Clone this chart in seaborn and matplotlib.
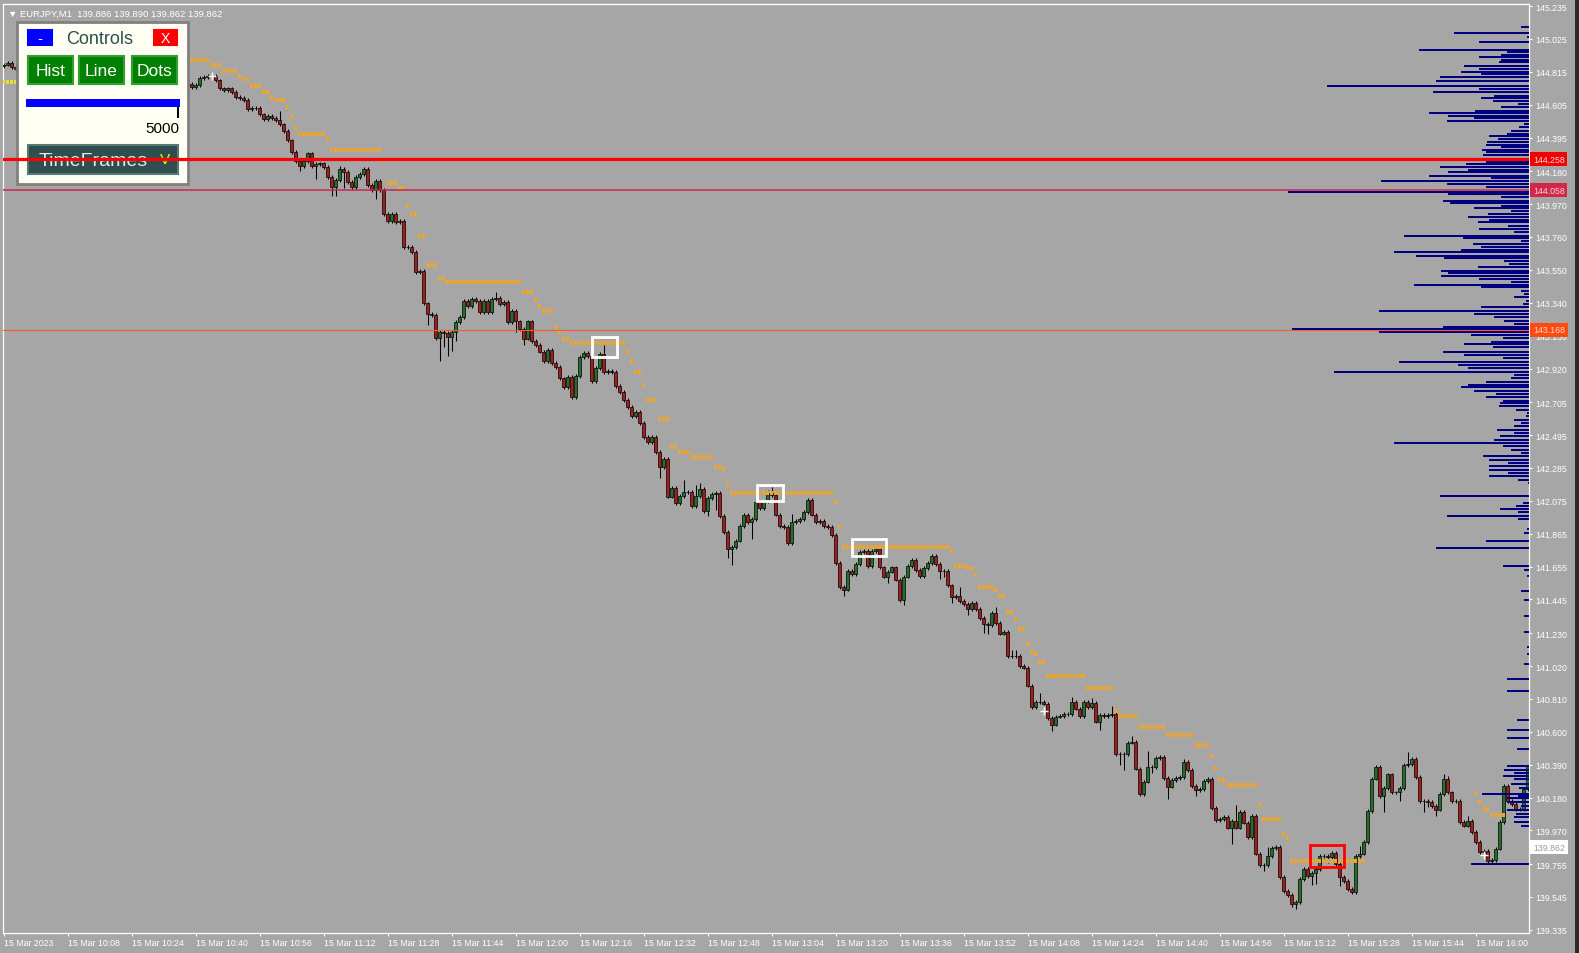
import numpy as np
import pandas as pd
import seaborn as sns
import matplotlib.pyplot as plt
from matplotlib.patches import Rectangle

# ---- EURJPY M1, 15 Mar 2023, first bar at 09:52 ----
first_open = 144.850
closes = [
    144.859, 144.871, 144.846, 144.833, 144.85, 144.86, 144.88, 144.90, 144.91, 144.92,
    144.90, 144.88, 144.90, 144.92, 144.93, 144.91, 144.89, 144.87, 144.88, 144.90,
    144.88, 144.86, 144.85, 144.87, 144.88, 144.90, 144.91, 144.92, 144.91, 144.89,
    144.87, 144.86, 144.84, 144.83, 144.83, 144.81, 144.80, 144.81, 144.82, 144.79,
    144.78, 144.77, 144.77, 144.76, 144.74, 144.75, 144.74,
    144.718, 144.731, 144.775, 144.782, 144.788, 144.788, 144.762, 144.711, 144.699, 144.711,
    144.686, 144.654, 144.648, 144.635, 144.577, 144.584, 144.584, 144.545, 144.513, 144.533,
    144.520, 144.507, 144.481, 144.437, 144.379, 144.303, 144.245, 144.213, 144.245, 144.296,
    144.213, 144.226, 144.232, 144.207, 144.143, 144.079, 144.124, 144.194, 144.175, 144.111,
    144.079, 144.143, 144.162, 144.194, 144.092, 144.060, 144.118, 144.060, 143.907, 143.862,
    143.907, 143.856, 143.862, 143.696, 143.696, 143.664, 143.536, 143.543, 143.338, 143.268,
    143.262, 143.115, 143.153, 143.147, 143.121, 143.153, 143.217, 143.249, 143.351, 143.319,
    143.364, 143.351, 143.281, 143.351, 143.281, 143.364, 143.370, 143.332, 143.345, 143.217,
    143.287, 143.223, 143.172, 143.109, 143.223, 143.096, 143.070, 143.026, 142.968, 143.038,
    142.955, 142.930, 142.859, 142.802, 142.866, 142.738, 142.872, 142.994, 143.019, 143.000,
    142.840, 142.923, 143.013, 142.898, 142.904, 142.898, 142.808, 142.770, 142.719, 142.674,
    142.617, 142.642, 142.572, 142.483, 142.451, 142.483, 142.387, 142.291, 142.342, 142.100,
    142.157, 142.061, 142.106, 142.131, 142.131, 142.042, 142.106, 142.151, 142.010, 142.093,
    142.119, 142.125, 141.978, 141.876, 141.767, 141.780, 141.819, 141.914, 141.985, 141.940,
    141.959, 142.068, 142.029, 142.068, 142.125, 142.112, 141.985, 141.914, 141.908, 141.806,
    141.940, 141.946, 141.959, 142.004, 142.080, 141.985, 141.940, 141.946, 141.914, 141.908,
    141.857, 141.678, 141.525, 141.506, 141.627, 141.608, 141.672, 141.748, 141.755, 141.659,
    141.755, 141.767, 141.652, 141.589, 141.621, 141.652, 141.570, 141.442, 141.589, 141.659,
    141.697, 141.633, 141.595, 141.646, 141.678, 141.723, 141.672, 141.627, 141.627, 141.537,
    141.461, 141.467, 141.435, 141.416, 141.384, 141.423, 141.384, 141.327, 141.288, 141.282,
    141.359, 141.295, 141.225, 141.237, 141.084, 141.084, 141.084, 141.020, 141.008, 140.893,
    140.758, 140.790, 140.790, 140.778, 140.688, 140.644, 140.695, 140.701, 140.714, 140.714,
    140.790, 140.746, 140.701, 140.790, 140.758, 140.784, 140.663, 140.707, 140.701, 140.707,
    140.714, 140.458, 140.458, 140.458, 140.529, 140.535, 140.363, 140.203, 140.280, 140.375,
    140.375, 140.433, 140.439, 140.305, 140.248, 140.292, 140.305, 140.311, 140.407, 140.356,
    140.254, 140.228, 140.235, 140.286, 140.299, 140.113, 140.037, 140.043, 140.056, 139.986,
    140.030, 139.986, 140.088, 140.018, 139.928, 140.062, 139.820, 139.749, 139.749, 139.807,
    139.858, 139.864, 139.673, 139.583, 139.558, 139.500, 139.513, 139.660, 139.724, 139.679,
    139.698, 139.724, 139.807, 139.807, 139.800, 139.826, 139.756, 139.673, 139.647, 139.596,
    139.577, 139.807, 139.820, 139.896, 140.094, 140.299, 140.375, 140.190, 140.241, 140.330,
    140.215, 140.215, 140.241, 140.388, 140.394, 140.426, 140.311, 140.158, 140.158, 140.152,
    140.126, 140.101, 140.203, 140.299, 140.215, 140.158, 140.158, 140.024, 139.999, 140.030,
    139.960, 139.896, 139.832, 139.839, 139.775, 139.781, 139.852, 140.024, 140.254, 140.158,
    140.139, 140.107, 140.107, 140.235, 140.381,
]
# wick beyond the body, in pips (0.01)
upper_wick_pips = [
    1, 1, 1, 1, 1, 1, 1, 1, 1, 1, 1, 1, 1, 1, 1, 1, 1, 1, 1, 1,
    1, 1, 1, 1, 1, 1, 1, 1, 1, 1, 1, 1, 1, 1, 1, 1, 1, 1, 1, 1,
    1, 1, 1, 1, 1, 1, 1, 1, 1, 1, 1, 1, 1, 1, 1, 1, 1, 1, 1, 1,
    1, 1, 1, 1, 1, 1, 1, 1, 1, 6, 1, 1, 1, 1, 1, 1, 1, 1, 1, 1,
    1, 1, 1, 1, 2, 1, 1, 1, 1, 1, 1, 1, 1, 1, 1, 1, 1, 1, 1, 1,
    1, 1, 1, 1, 1, 1, 1, 1, 1, 1, 1, 1, 1, 1, 1, 1, 1, 1, 1, 1,
    1, 1, 1, 4, 1, 1, 1, 1, 1, 1, 1, 1, 1, 1, 1, 1, 1, 1, 1, 1,
    1, 1, 1, 1, 1, 1, 1, 1, 1, 1, 6, 1, 1, 1, 1, 1, 1, 1, 1, 1,
    1, 1, 1, 1, 1, 1, 1, 1, 1, 1, 8, 1, 1, 7, 4, 1, 1, 1, 1, 1,
    1, 1, 1, 1, 1, 1, 1, 1, 1, 1, 1, 2, 4, 1, 1, 1, 1, 5, 1, 1,
    1, 1, 1, 1, 1, 1, 1, 1, 1, 1, 1, 1, 1, 1, 1, 1, 1, 1, 1, 1,
    1, 1, 1, 1, 1, 1, 1, 1, 1, 1, 1, 1, 1, 1, 1, 1, 1, 1, 1, 6,
    1, 1, 1, 1, 1, 1, 1, 1, 4, 1, 1, 1, 4, 4, 1, 1, 1, 1, 1, 6,
    1, 1, 1, 1, 1, 1, 1, 3, 1, 1, 1, 1, 3, 1, 1, 1, 1, 5, 1, 1,
    1, 1, 4, 1, 1, 1, 10, 1, 1, 1, 1, 1, 1, 1, 1, 2, 1, 1, 1, 1,
    1, 1, 1, 1, 1, 1, 1, 1, 10, 1, 1, 1, 1, 1, 1, 1, 6, 1, 1, 1,
    1, 1, 1, 1, 1, 1, 1, 1, 1, 1, 1, 1, 1, 1, 1, 1, 1, 1, 1, 5,
    1, 1, 1, 1, 1, 1, 1, 1, 1, 1, 1, 8, 1, 1, 1, 1, 1, 1, 1, 1,
    3, 2, 1, 1, 1, 1, 3, 1, 1, 1, 1, 1, 1, 1, 1, 1, 1, 1, 1, 1,
    1, 1,
]
lower_wick_pips = [
    1, 1, 1, 1, 1, 1, 1, 1, 1, 1, 1, 1, 1, 1, 1, 1, 1, 1, 1, 1,
    1, 1, 1, 1, 1, 1, 1, 1, 1, 1, 1, 1, 1, 1, 1, 1, 1, 1, 1, 1,
    1, 1, 1, 1, 1, 1, 1, 1, 1, 1, 1, 1, 1, 1, 1, 1, 1, 1, 1, 1,
    1, 1, 1, 1, 1, 1, 1, 1, 1, 1, 1, 1, 1, 1, 3, 1, 1, 1, 8, 1,
    1, 1, 6, 6, 1, 10, 1, 1, 1, 1, 1, 1, 1, 6, 1, 1, 1, 1, 1, 1,
    1, 1, 1, 1, 1, 1, 7, 1, 1, 15, 9, 12, 9, 6, 1, 1, 1, 1, 1, 1,
    1, 1, 1, 1, 1, 1, 1, 1, 7, 1, 4, 1, 1, 1, 1, 1, 1, 1, 1, 1,
    1, 1, 1, 1, 1, 1, 1, 1, 1, 1, 1, 1, 1, 1, 1, 1, 1, 1, 1, 1,
    1, 1, 1, 1, 7, 1, 1, 1, 1, 1, 1, 1, 1, 1, 1, 1, 3, 1, 10, 1,
    1, 6, 10, 1, 1, 1, 1, 11, 1, 1, 1, 1, 1, 1, 1, 1, 1, 1, 1, 1,
    1, 1, 1, 1, 1, 1, 1, 1, 1, 1, 4, 1, 1, 1, 1, 1, 1, 1, 1, 1,
    1, 4, 1, 1, 1, 3, 1, 1, 1, 1, 1, 1, 1, 1, 5, 4, 1, 4, 1, 1,
    1, 4, 1, 1, 1, 6, 6, 1, 1, 1, 1, 1, 1, 1, 1, 1, 1, 1, 1, 1,
    1, 1, 4, 1, 1, 1, 1, 1, 1, 1, 1, 1, 1, 1, 5, 1, 1, 1, 1, 7,
    10, 1, 1, 1, 1, 1, 1, 4, 1, 1, 1, 8, 1, 1, 1, 1, 1, 1, 4, 1,
    1, 1, 1, 1, 1, 1, 1, 10, 1, 1, 1, 1, 1, 1, 1, 4, 1, 1, 1, 1,
    1, 1, 2, 3, 1, 1, 1, 6, 7, 1, 1, 4, 1, 1, 6, 1, 1, 1, 1, 1,
    1, 1, 1, 1, 1, 10, 1, 1, 1, 6, 1, 1, 1, 1, 1, 7, 3, 1, 4, 1,
    1, 1, 1, 1, 1, 1, 1, 1, 1, 1, 1, 1, 1, 1, 1, 1, 1, 1, 1, 1,
    1, 1,
]

# trailing stop dots (orange): first bar, last bar, level
stop_from = [47, 52, 55, 59, 60, 62, 65, 67, 68, 71, 72, 73, 74, 81, 82, 95, 96, 99, 101, 102,
             104, 106, 109, 111, 130, 133, 134, 135, 138, 139, 140, 142, 156, 157, 158, 160, 161, 164, 167, 169,
             172, 178, 180, 181, 182, 208, 209, 210, 237, 238, 241, 243, 244, 248, 249, 251, 253, 254, 256, 257,
             258, 259, 261, 271, 278, 279, 284, 291, 298, 302, 303, 304, 306, 314, 315, 320, 321, 322, 368, 369,
             370, 372]
stop_to = [51, 54, 58, 59, 61, 64, 66, 67, 70, 71, 72, 73, 80, 81, 94, 95, 98, 100, 101, 103,
           105, 108, 110, 129, 132, 133, 134, 137, 138, 139, 141, 155, 156, 157, 159, 160, 163, 166, 168, 171,
           177, 179, 180, 181, 207, 208, 209, 236, 237, 240, 242, 243, 247, 248, 250, 252, 253, 255, 256, 257,
           258, 260, 270, 277, 278, 283, 290, 297, 301, 302, 303, 305, 313, 314, 319, 320, 321, 340, 368, 369,
           371, 375]
stop_level = [144.890, 144.858, 144.820, 144.788, 144.769, 144.724, 144.686, 144.654, 144.635, 144.590,
              144.526, 144.456, 144.418, 144.386, 144.315, 144.245, 144.105, 144.073, 143.958, 143.907,
              143.766, 143.581, 143.492, 143.473, 143.409, 143.358, 143.319, 143.287, 143.185, 143.153,
              143.109, 143.083, 143.026, 142.968, 142.898, 142.815, 142.719, 142.598, 142.419, 142.387,
              142.355, 142.291, 142.278, 142.176, 142.125, 142.068, 141.908, 141.780, 141.755, 141.659,
              141.646, 141.602, 141.525, 141.506, 141.467, 141.365, 141.320, 141.257, 141.161, 141.110,
              141.097, 141.046, 140.957, 140.880, 140.733, 140.701, 140.631, 140.580, 140.516, 140.446,
              140.369, 140.292, 140.260, 140.133, 140.043, 139.948, 139.922, 139.775, 140.209, 140.152,
              140.107, 140.069]
sup_from = [0]
sup_to = [3]
sup_level = [144.750]

# volume profile: price level, relative volume
vp_price = [145.101, 145.063, 145.037, 145.005, 144.954, 144.941, 144.922, 144.909, 144.890, 144.877,
            144.852, 144.833, 144.814, 144.801, 144.782, 144.756, 144.724, 144.705, 144.686, 144.660,
            144.647, 144.628, 144.609, 144.590, 144.564, 144.552, 144.533, 144.520, 144.501, 144.481,
            144.462, 144.437, 144.418, 144.405, 144.386, 144.367, 144.347, 144.335, 144.315, 144.303,
            144.284, 144.258, 144.239, 144.226, 144.207, 144.188, 144.175, 144.150, 144.137, 144.118,
            144.099, 144.079, 144.047, 144.035, 144.015, 143.990, 143.977, 143.958, 143.945, 143.926,
            143.907, 143.888, 143.868, 143.856, 143.830, 143.811, 143.792, 143.767, 143.754, 143.735,
            143.715, 143.696, 143.677, 143.664, 143.639, 143.626, 143.607, 143.588, 143.569, 143.543,
            143.530, 143.511, 143.492, 143.473, 143.454, 143.441, 143.415, 143.396, 143.377, 143.351,
            143.332, 143.313, 143.288, 143.268, 143.249, 143.224, 143.205, 143.185, 143.173, 143.153,
            143.134, 143.115, 143.090, 143.077, 143.058, 143.026, 143.007, 142.987, 142.962, 142.943,
            142.924, 142.898, 142.879, 142.860, 142.834, 142.815, 142.802, 142.777, 142.758, 142.738,
            142.713, 142.700, 142.681, 142.655, 142.636, 142.617, 142.592, 142.572, 142.553, 142.528,
            142.508, 142.489, 142.464, 142.445, 142.425, 142.400, 142.381, 142.362, 142.336, 142.317,
            142.298, 142.272, 142.253, 142.234, 142.208, 142.189, 142.106, 142.061, 142.042, 142.023,
            142.004, 141.978, 141.959, 141.895, 141.870, 141.819, 141.774, 141.659, 141.634, 141.595,
            141.500, 141.442, 141.340, 141.238, 141.142, 141.097, 141.033, 140.937, 140.861, 140.676,
            140.612, 140.561, 140.490, 140.382, 140.356, 140.337, 140.318, 140.299, 140.267, 140.241,
            140.203, 140.190, 140.178, 140.152, 140.126, 140.101, 140.075, 140.056, 140.024, 139.999,
            139.756]
vp_size = [8, 75, 2, 50, 110, 22, 28, 50, 28, 30,
           65, 50, 68, 48, 89, 93, 202, 50, 96, 35,
           48, 36, 11, 28, 54, 100, 81, 55, 82, 5,
           10, 18, 22, 40, 31, 42, 43, 28, 47, 43,
           46, 297, 43, 63, 89, 61, 81, 100, 38, 148,
           82, 43, 241, 81, 28, 86, 79, 28, 55, 18,
           41, 61, 40, 51, 21, 50, 15, 125, 66, 8,
           56, 48, 68, 135, 113, 85, 25, 20, 51, 88,
           81, 88, 50, 18, 115, 48, 8, 5, 15, 3,
           6, 48, 150, 55, 35, 25, 15, 86, 237, 150,
           58, 26, 38, 65, 36, 86, 65, 26, 130, 71,
           61, 195, 15, 18, 43, 61, 68, 55, 33, 43,
           26, 29, 30, 13, 2, 3, 15, 8, 15, 32,
           15, 29, 35, 135, 26, 18, 8, 46, 40, 21,
           40, 40, 21, 40, 11, 1, 89, 6, 13, 29,
           11, 82, 11, 2, 5, 43, 93, 26, 5, 2,
           8, 5, 5, 5, 2, 2, 5, 22, 22, 12,
           22, 22, 12, 22, 25, 15, 26, 15, 18, 10,
           47, 11, 22, 22, 8, 22, 13, 15, 15, 8,
           58]

# horizontal lines and their price tags
hl_price = [144.258, 144.058, 143.168]
hl_color = ['#ff0000', '#c8284a', '#ff5a28']
hl_width = [2.3, 1.1, 0.8]
tag_text = ['144.258', '144.058', '143.168', '139.862']
tag_price = [144.258, 144.058, 143.168, 139.862]
tag_bg = ['#f00000', '#d0284a', '#ff4a10', '#ffffff']
tag_fg = ['#ffd8d8', '#ffd0d8', '#ffd8c0', '#9a9a9a']

# rectangle objects on the chart
box_t0 = [147.1, 188.4, 212.1, 326.6]
box_t1 = [153.4, 194.9, 220.6, 335.1]
box_lo = [142.994, 142.074, 141.723, 139.737]
box_hi = [143.121, 142.176, 141.831, 139.877]
box_color = ['white', 'white', 'white', '#ff0000']
mark_t = [52, 260, 370]
mark_p = [144.790, 140.735, 139.810]

y_tick_labels = ['145.235', '145.025', '144.815', '144.605', '144.395', '144.180', '143.970',
                 '143.760', '143.550', '143.340', '143.130', '142.920', '142.705', '142.495',
                 '142.285', '142.075', '141.865', '141.655', '141.445', '141.230', '141.020',
                 '140.810', '140.600', '140.390', '140.180', '139.970', '139.755', '139.545', '139.335']
x_tick_clock = ['09:52', '10:08', '10:24', '10:40', '10:56', '11:12', '11:28', '11:44', '12:00',
                '12:16', '12:32', '12:48', '13:04', '13:20', '13:36', '13:52', '14:08', '14:24',
                '14:40', '14:56', '15:12', '15:28', '15:44', '16:00']
x_tick_labels = ['15 Mar 2023'] + ['15 Mar ' + c for c in x_tick_clock[1:]]

BG = '#a6a6a6'
BULL = '#23702a'
BEAR = '#a41c1c'
ORANGE = '#f0a428'
NAVY = '#000080'

sns.set_theme(style='white')
plt.rcParams['font.family'] = ['Liberation Sans', 'DejaVu Sans']

W, H = 1579, 954


def rect(l, t, w, h):
    return [l / W, 1 - (t + h) / H, w / W, h / H]


fig = plt.figure(figsize=(W / 100, H / 100), dpi=100, facecolor=BG)
ax = fig.add_axes(rect(3, 5, 1526, 929))
ax.set_facecolor(BG)

# candles
df = pd.DataFrame({'close': closes})
df['t'] = np.arange(len(df))
df['open'] = df['close'].shift(1).fillna(first_open)
df['high'] = df[['open', 'close']].max(axis=1) + np.array(upper_wick_pips) * 0.01
df['low'] = df[['open', 'close']].min(axis=1) - np.array(lower_wick_pips) * 0.01
up = df['close'] >= df['open']

ax.vlines(df['t'], df['low'], df['high'], color='black', lw=0.75, zorder=2)
for mask, col in [(up, BULL), (~up, BEAR)]:
    d = df[mask]
    ax.bar(d['t'], d['close'] - d['open'], bottom=d['open'], width=0.72,
           color=col, edgecolor='black', linewidth=0.5, zorder=3)

# trailing stop dots
st_t, st_p = [], []
for f, t, lv in zip(stop_from, stop_to, stop_level):
    for k in range(f, t + 1):
        st_t.append(k)
        st_p.append(lv)
sns.scatterplot(x=st_t, y=st_p, ax=ax, marker='s', s=7, color=ORANGE,
                edgecolor='none', linewidth=0, zorder=4)
su_t, su_p = [], []
for f, t, lv in zip(sup_from, sup_to, sup_level):
    for k in range(f, t + 1):
        su_t.append(k)
        su_p.append(lv)
sns.scatterplot(x=su_t, y=su_p, ax=ax, marker='s', s=7, color='#e8e030',
                edgecolor='none', linewidth=0, zorder=4)

for t0, t1, lo, hi, c in zip(box_t0, box_t1, box_lo, box_hi, box_color):
    ax.add_patch(Rectangle((t0, lo), t1 - t0, hi - lo, fill=False, ec=c, lw=2, zorder=6))
ax.scatter(mark_t, mark_p, marker='+', s=30, color='white', linewidths=1, zorder=6)

ax.set_xlim(-0.15, 381.35)
ax.set_ylim(139.315, 145.248)
ax.set_xlabel('')
ax.set_ylabel('')

t0 = pd.Timestamp('2023-03-15 09:52')
tick_pos = [(pd.Timestamp('2023-03-15 ' + c) - t0).total_seconds() / 60 for c in x_tick_clock]
ax.set_xticks(tick_pos)
ax.set_xticklabels(x_tick_labels)
for lbl in ax.get_xticklabels():
    lbl.set_ha('left')
ax.yaxis.tick_right()
ax.set_yticks([float(v) for v in y_tick_labels])
ax.set_yticklabels(y_tick_labels)
ax.tick_params(axis='both', colors='white', labelsize=6.3, length=2.5, width=0.8,
               direction='out')
ax.tick_params(axis='x', pad=1)
ax.tick_params(axis='y', pad=2, labelright=True, right=True, left=False, labelleft=False)
for s in ax.spines.values():
    s.set_color('white')
    s.set_linewidth(0.9)
ax.grid(False)

# volume profile on top layer
axp = ax.twiny()
axp.set_xlim(1526, 0)
axp.barh(vp_price, vp_size, height=0.015, left=0, color=NAVY,
         edgecolor='none', linewidth=0, zorder=2)
for p, c, lw in zip(hl_price, hl_color, hl_width):
    axp.axhline(p, color=c, lw=lw, zorder=3)
for txt, p, bg, fg in zip(tag_text, tag_price, tag_bg, tag_fg):
    axp.annotate(txt, xy=(1, p), xycoords=('axes fraction', 'data'),
                 xytext=(4, 0), textcoords='offset pixels', va='center', ha='left',
                 fontsize=6.3, color=fg, annotation_clip=False, zorder=5,
                 bbox=dict(boxstyle='square,pad=0.3', fc=bg, ec='none'))
axp.xaxis.set_visible(False)
for s in axp.spines.values():
    s.set_visible(False)
axp.grid(False)

# controls panel
pan = fig.add_axes(rect(17, 23, 171, 162))
pan.set_xlim(0, 171)
pan.set_ylim(162, 0)
pan.axis('off')
pan.add_patch(Rectangle((0, 0), 171, 162, fc='#fffff4', ec='#808080', lw=2, clip_on=False))


def button(x, y, w, h, fc, ec, label, tc, fs, ha='center', tx=None):
    pan.add_patch(Rectangle((x, y), w, h, fc=fc, ec=ec, lw=1.5))
    pan.text(x + w / 2 if tx is None else tx, y + h / 2 + 0.5, label, color=tc,
             fontsize=fs, ha=ha, va='center')


button(11, 8, 24, 15, '#0000ff', '#0000ff', '-', 'white', 11)
button(137, 8, 23, 15, '#ff0000', '#ff0000', 'X', 'white', 10)
pan.text(83, 16, 'Controls', color='#2f4f4f', fontsize=13, ha='center', va='center')
button(11, 34, 45, 28, '#008000', '#30a030', 'Hist', 'white', 12.5)
button(62, 34, 45, 28, '#008000', '#30a030', 'Line', 'white', 12.5)
button(115, 34, 45, 28, '#008000', '#30a030', 'Dots', 'white', 12.5)
pan.add_patch(Rectangle((9, 77), 154, 8, fc='#0000ff', ec='none'))
pan.add_patch(Rectangle((160, 85), 2, 11, fc='black', ec='none'))
pan.text(162, 106, '5000', color='black', fontsize=11, ha='right', va='center')
button(11, 123, 150, 29, '#2f4f4f', '#587878', 'TimeFrames', '#e8e8e8', 14, ha='left', tx=22)
pan.text(148, 137, 'V', color='#f0f000', fontsize=11, ha='center', va='center')

ax.set_zorder(0)
pan.set_zorder(1)
axp.set_zorder(2)

fig.text(8 / W, 1 - 14 / H, '▼ EURJPY,M1  139.886 139.890 139.862 139.862',
         color='white', fontsize=6.8, va='center', ha='left')
fig.add_artist(Rectangle((1575 / W, 0), 4 / W, 1, transform=fig.transFigure,
                         fc='#2b2b2b', ec='none'))

fig.savefig('out.png', dpi=100, facecolor=BG)
